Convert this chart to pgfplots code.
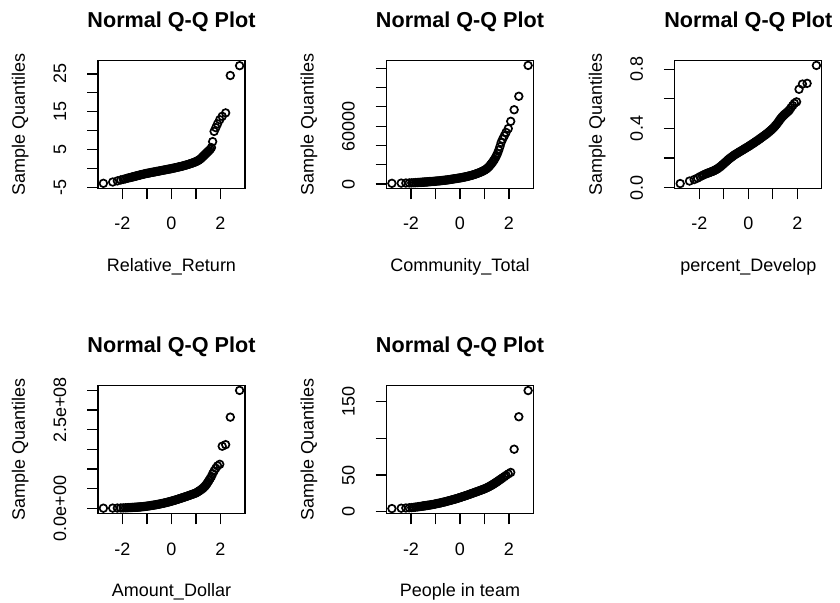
\documentclass[border=0pt]{standalone}
\usepackage{fontspec}
\setmainfont{Liberation Sans}
\usepackage{pgfplots}
\usepackage{pgfplotstable}
\pgfplotsset{compat=1.18}

% theoretical quantile, Relative_Return, Community_Total, percent_Develop, Amount_Dollar, People in team
\pgfplotstableread{
x rr ct pd ad pt
-2.78 -3.94 700 0.028 0.3e6 4.5
-2.40 -3.6 900 0.045 0.5e6 5.0
-2.21 -3.3 1000 0.055 0.7e6 5.3
-2.07 -3.05 1100 0.065 0.9e6 5.6
-1.97 -2.9 1200 0.075 1.1e6 5.9
-1.88 -2.75 1300 0.082 1.3e6 6.2
-1.81 -2.6 1400 0.088 1.5e6 6.5
-1.74 -2.5 1500 0.093 1.7e6 6.8
-1.68 -2.4 1600 0.097 1.9e6 7.1
-1.63 -2.32 1680 0.100 2.05e6 7.35
-1.58 -2.24 1760 0.103 2.2e6 7.6
-1.53 -2.15 1850 0.106 2.4e6 7.85
-1.49 -2.08 1920 0.109 2.55e6 8.05
-1.45 -2.02 1980 0.111 2.7e6 8.25
-1.41 -1.95 2050 0.114 2.85e6 8.45
-1.37 -1.88 2120 0.118 3.05e6 8.65
-1.33 -1.82 2220 0.121 3.25e6 8.85
-1.29 -1.75 2320 0.125 3.45e6 9.05
-1.25 -1.68 2420 0.129 3.7e6 9.25
-1.20 -1.6 2500 0.135 4.0e6 9.5
-1.15 -1.52 2600 0.141 4.35e6 9.8
-1.10 -1.45 2700 0.148 4.7e6 10.1
-1.05 -1.37 2800 0.155 5.1e6 10.45
-1.00 -1.3 2900 0.162 5.5e6 10.8
-0.95 -1.24 3020 0.170 5.95e6 11.15
-0.90 -1.18 3150 0.177 6.4e6 11.5
-0.85 -1.11 3270 0.185 6.9e6 11.85
-0.80 -1.05 3400 0.192 7.4e6 12.2
-0.75 -0.99 3550 0.199 7.9e6 12.6
-0.70 -0.93 3700 0.205 8.4e6 13.0
-0.65 -0.86 3850 0.211 8.95e6 13.4
-0.60 -0.8 4000 0.217 9.5e6 13.8
-0.55 -0.74 4150 0.223 10.1e6 14.25
-0.50 -0.68 4300 0.228 10.7e6 14.7
-0.45 -0.61 4500 0.233 11.35e6 15.15
-0.40 -0.55 4700 0.238 12.0e6 15.6
-0.35 -0.48 4900 0.243 12.7e6 16.05
-0.30 -0.42 5100 0.248 13.4e6 16.5
-0.25 -0.36 5300 0.253 14.15e6 16.95
-0.20 -0.3 5500 0.258 14.9e6 17.4
-0.15 -0.23 5700 0.263 15.7e6 17.9
-0.10 -0.17 5900 0.268 16.5e6 18.4
-0.05 -0.11 6100 0.273 17.35e6 18.95
0.00 -0.05 6300 0.278 18.2e6 19.5
0.05 0.02 6550 0.283 19.1e6 20.05
0.10 0.1 6800 0.289 20.0e6 20.6
0.15 0.17 7050 0.294 20.95e6 21.15
0.20 0.25 7300 0.300 21.9e6 21.7
0.25 0.32 7600 0.305 22.9e6 22.25
0.30 0.4 7900 0.311 23.9e6 22.8
0.35 0.47 8200 0.316 24.95e6 23.4
0.40 0.55 8500 0.322 26.0e6 24.0
0.45 0.63 8850 0.328 27.0e6 24.6
0.50 0.72 9200 0.334 28.0e6 25.2
0.55 0.81 9600 0.340 29.05e6 25.8
0.60 0.9 10000 0.346 30.1e6 26.4
0.65 1.0 10450 0.352 31.2e6 27.0
0.70 1.1 10900 0.358 32.3e6 27.6
0.75 1.21 11400 0.364 33.4e6 28.2
0.80 1.32 11900 0.371 34.5e6 28.8
0.85 1.43 12450 0.378 35.65e6 29.4
0.90 1.55 13000 0.385 36.8e6 30.0
0.95 1.67 13650 0.392 37.9e6 30.65
1.00 1.8 14300 0.400 39.0e6 31.3
1.05 1.97 15150 0.409 41.0e6 32.05
1.10 2.15 16000 0.418 43.0e6 32.8
1.15 2.37 17250 0.428 45.0e6 33.65
1.20 2.6 18500 0.438 47.0e6 34.5
1.25 2.95 20000 0.450 49.5e6 35.4
1.29 3.2 21300 0.459 51.5e6 36.2
1.33 3.45 22700 0.468 54.0e6 37.0
1.37 3.7 24100 0.476 56.5e6 37.8
1.41 3.95 25700 0.483 59.5e6 38.65
1.45 4.2 27500 0.490 63.0e6 39.5
1.49 4.45 29500 0.496 67.0e6 40.4
1.53 4.7 31700 0.502 71.0e6 41.3
1.58 5.05 35000 0.509 76.0e6 42.5
1.63 5.5 38800 0.517 81.0e6 43.6
1.68 7.1 43000 0.525 88.0e6 44.8
1.74 9.8 46500 0.540 95.0e6 46.2
1.81 10.8 50000 0.555 102e6 47.8
1.88 11.8 53500 0.570 108e6 49.5
1.97 12.9 57500 0.580 112e6 51.5
2.07 13.8 65000 0.665 158e6 53.5
2.21 14.7 77000 0.700 162e6 85
2.40 24.6 91000 0.705 232e6 129
2.78 27.2 123000 0.826 300e6 164.5
}\qqdata

\pgfplotsset{
  qq/.style={
    scale only axis, width=147pt, height=127.6pt,
    xmin=-3, xmax=3,
    xtick={-2,-1,0,1,2}, xticklabels={-2,,0,,2},
    tick align=outside, tick pos=left,
    major tick length=11pt,
    axis line style={line width=1.2pt, black},
    tick style={line width=1.2pt, black},
    ticklabel style={font=\fontsize{18}{21}\selectfont},
    xticklabel style={anchor=base},
    xticklabel shift=30.7pt,
    yticklabel style={rotate=90, anchor=base},
    yticklabel shift=21pt,
    scaled y ticks=false, scaled x ticks=false,
    title={Normal Q-Q Plot},
    title style={font=\bfseries\fontsize{21.6}{26}\selectfont,
      at={(axis description cs:0.5,1)}, anchor=base, yshift=27.3pt},
    ylabel={Sample Quantiles},
    ylabel style={font=\fontsize{18}{21}\selectfont,
      at={([xshift=-73pt]axis description cs:0,0.5)}, anchor=base},
    xlabel style={font=\fontsize{18}{21}\selectfont,
      at={([yshift=-83.5pt]axis description cs:0.5,0)}, anchor=base},
    clip=false,
  },
  qqmarks/.style={only marks, mark=o, mark size=3.8pt,
    mark options={line width=1.7pt, black}},
}

\begin{document}
\begin{tikzpicture}
\path[use as bounding box] (0,0) rectangle (840pt,602pt);

\begin{axis}[qq, at={(98pt,413.7pt)}, anchor=south west,
  ymin=-5.26, ymax=28.52, ytick={-5,0,5,10,15,20,25},
  yticklabels={-5,,5,,15,,25}, xlabel={Relative\_Return}]
\addplot[qqmarks] table[x=x, y=rr] {\qqdata};
\end{axis}

\begin{axis}[qq, at={(386.5pt,413.7pt)}, anchor=south west,
  ymin=-4460, ymax=127900, ytick={0,20000,40000,60000,80000,100000,120000},
  yticklabels={0,,,60000,,,}, xlabel={Community\_Total}]
\addplot[qqmarks] table[x=x, y=ct] {\qqdata};
\end{axis}

\begin{axis}[qq, at={(674.8pt,413.7pt)}, anchor=south west,
  ymin=-0.004, ymax=0.858, ytick={0,0.2,0.4,0.6,0.8},
  yticklabels={0.0,,0.4,,0.8}, xlabel={percent\_Develop}]
\addplot[qqmarks] table[x=x, y=pd] {\qqdata};
\end{axis}

\begin{axis}[qq, at={(98pt,88.7pt)}, anchor=south west,
  ymin=-1.27e7, ymax=3.12e8, ytick={0,5e7,1e8,1.5e8,2e8,2.5e8,3e8},
  yticklabels={0.0e+00,,,,,2.5e+08,}, xlabel={Amount\_Dollar}]
\addplot[qqmarks] table[x=x, y=ad] {\qqdata};
\end{axis}

\begin{axis}[qq, at={(386.5pt,88.7pt)}, anchor=south west,
  ymin=-1.9, ymax=171.1, ytick={0,50,100,150},
  yticklabels={0,50,,150}, xlabel={People in team}]
\addplot[qqmarks] table[x=x, y=pt] {\qqdata};
\end{axis}
\end{tikzpicture}
\end{document}
